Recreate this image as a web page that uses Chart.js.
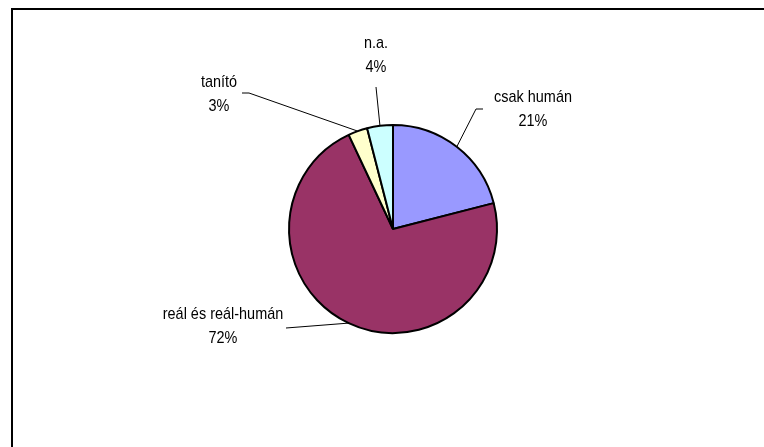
<!DOCTYPE html>
<html>
<head>
<meta charset="utf-8">
<script src="https://cdn.jsdelivr.net/npm/chart.js@4"></script>
<style>
    html, body { margin: 0; padding: 0; background: #fff; }
    #wrap { position: relative; width: 764px; height: 447px; }
</style>
</head>
<body>
<div id="wrap"><canvas id="pieChart" width="764" height="447"></canvas></div>
<script>
// Adatok
const categories = ['csak humán', 'reál és reál-humán', 'tanító', 'n.a.'];
const shares = [21, 72, 3, 4];
const sliceColors = ['#9999FF', '#993366', '#FFFFCC', '#CCFFFF'];

// Címkék elhelyezése: a százalék sor közepe a kör középpontjához képest,
// és a vezetővonal vízszintes "csonkja" (ha van)
const labelLayout = [
    { dx: 140, dy: -108, hook: { x1: 483, x2: 476, y: 109 } },
    { dx: -170, dy: 109, hook: null },
    { dx: -174, dy: -123, hook: { x1: 242, x2: 249, y: 93 } },
    { dx: -17, dy: -162, hook: null }
];
const leaderStart = [
    null,
    { x: 286, y: 328 },
    null,
    { x: 376, y: 87 }
];

// Keret a diagram körül
const framePlugin = {
    id: 'frame',
    beforeDraw(chart) {
        const ctx = chart.ctx;
        ctx.save();
        ctx.strokeStyle = '#000';
        ctx.lineWidth = 2;
        ctx.strokeRect(12, 9, 800, 500);
        ctx.restore();
    }
};

// Címkék és vezetővonalak (a szelet közepéhez húzva)
const labelPlugin = {
    id: 'pieLabels',
    afterDatasetsDraw(chart) {
        const ctx = chart.ctx;
        const arcs = chart.getDatasetMeta(0).data;
        ctx.save();
        arcs.forEach((arc, i) => {
            const p = arc.getProps(['x', 'y', 'startAngle', 'endAngle', 'outerRadius'], true);
            const mid = (p.startAngle + p.endAngle) / 2;
            const ax = p.x + Math.cos(mid) * p.outerRadius;
            const ay = p.y + Math.sin(mid) * p.outerRadius;
            const lay = labelLayout[i];
            const cx = p.x + lay.dx;
            const cy = p.y + lay.dy;

            // vezetővonal
            ctx.strokeStyle = '#000';
            ctx.lineWidth = 1;
            ctx.beginPath();
            if (lay.hook) {
                ctx.moveTo(lay.hook.x1, lay.hook.y);
                ctx.lineTo(lay.hook.x2, lay.hook.y);
            } else {
                ctx.moveTo(leaderStart[i].x, leaderStart[i].y);
            }
            ctx.lineTo(ax, ay);
            ctx.stroke();

            // szöveg (kissé keskenyített Arial-szerű betű)
            const pct = Math.round(shares[i] / shares.reduce((a, b) => a + b, 0) * 100) + '%';
            ctx.fillStyle = '#000';
            ctx.font = '17px "Liberation Sans", Arial, sans-serif';
            ctx.textAlign = 'center';
            ctx.textBaseline = 'middle';
            ctx.save();
            ctx.translate(cx, cy);
            ctx.scale(0.85, 1);
            ctx.fillText(categories[i], 0, -24);
            ctx.fillText(pct, 0, 0);
            ctx.restore();
        });
        ctx.restore();
    }
};

new Chart(document.getElementById('pieChart'), {
    type: 'pie',
    data: {
        labels: categories,
        datasets: [{
            data: shares,
            backgroundColor: sliceColors,
            borderColor: '#000',
            borderWidth: 2,
            borderAlign: 'center'
        }]
    },
    options: {
        responsive: false,
        animation: false,
        layout: { padding: { left: 288, right: 266, top: 124, bottom: 113 } },
        plugins: {
            legend: { display: false },
            tooltip: { enabled: false }
        }
    },
    plugins: [framePlugin, labelPlugin]
});
</script>
</body>
</html>
